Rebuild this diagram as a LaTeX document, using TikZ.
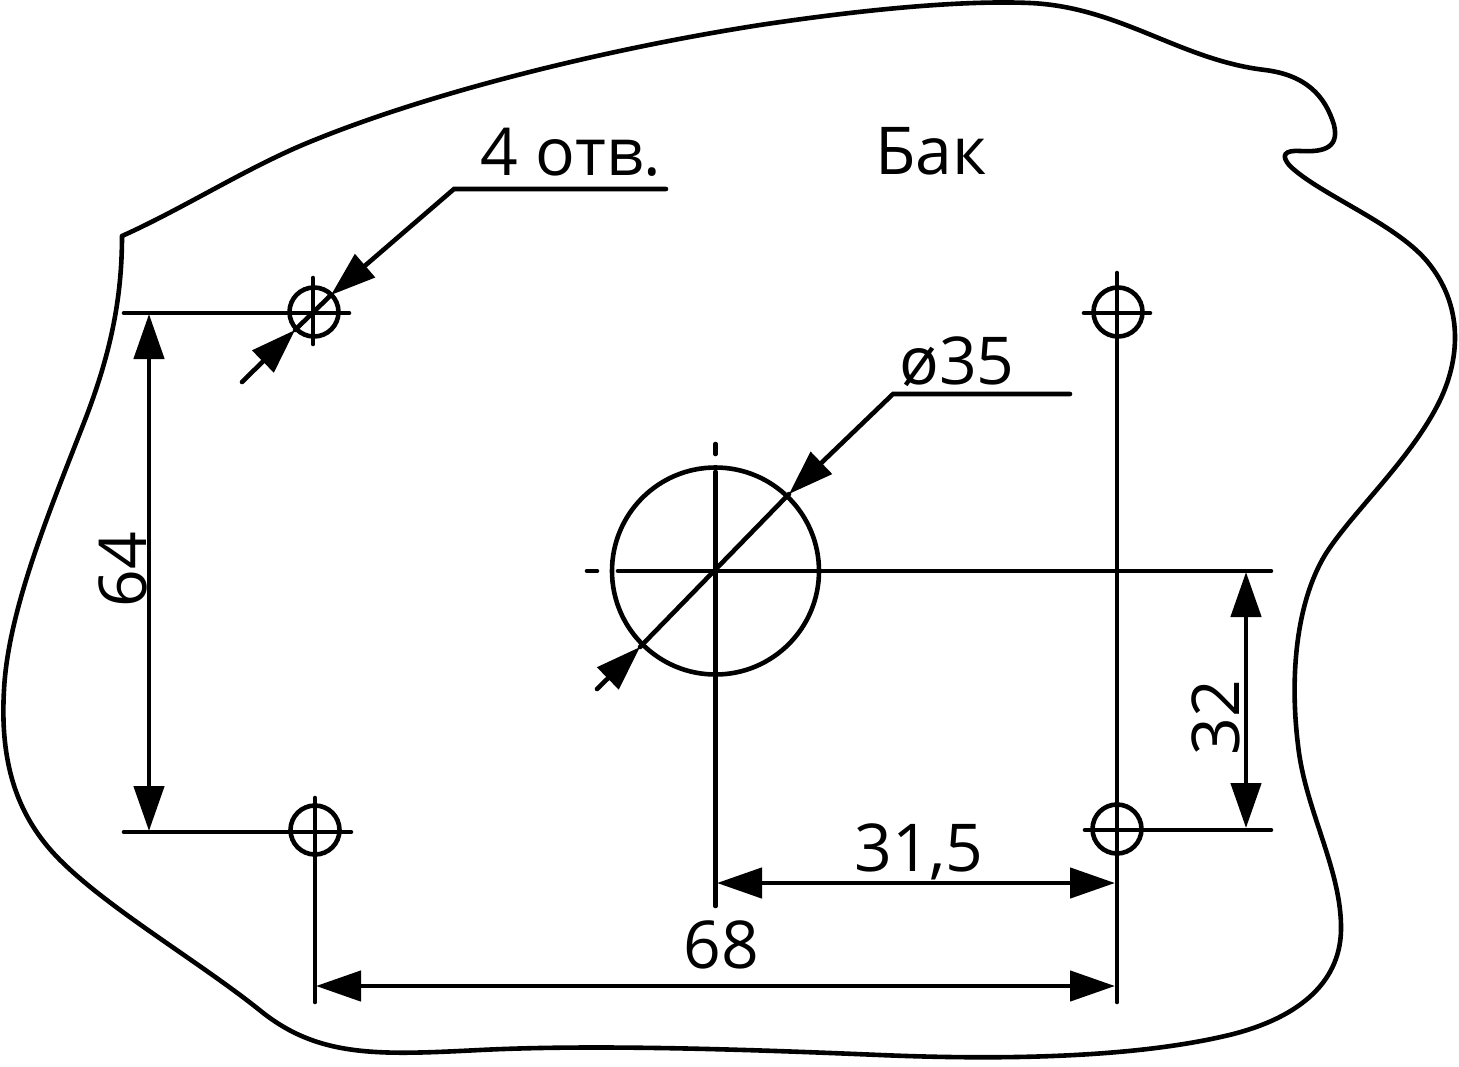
\documentclass[tikz,border=0pt]{standalone}
\usepackage{fontspec}
\setmainfont{Open Sans}
\usetikzlibrary{arrows.meta}
\tikzset{
  x=1pt,y=-1pt,
  ln/.style={line width=4.6pt,black,line cap=round},
  dim/.style={ln,{Triangle[length=45pt,width=30pt]}-{Triangle[length=45pt,width=30pt]}},
  tip/.style={ln,-{Triangle[length=45pt,width=30pt]}},
  lbl/.style={font=\fontsize{66}{66}\selectfont,inner sep=0pt,text=black}
}
\begin{document}
\begin{tikzpicture}
\useasboundingbox (0,0) rectangle (1459,1066);
% outline
\draw[ln,line join=round] (122,236)
 .. controls (180,210) and (240,172) .. (300,146)
 .. controls (420,95) and (600,50) .. (760,25)
 .. controls (860,10) and (960,0) .. (1030,3)
 .. controls (1120,7) and (1180,60) .. (1265,70)
 .. controls (1305,75) and (1325,95) .. (1334,125)
 .. controls (1340,150) and (1320,152) .. (1300,151)
 .. controls (1285,150) and (1280,155) .. (1290,166)
 .. controls (1320,195) and (1400,225) .. (1430,265)
 .. controls (1465,310) and (1460,365) .. (1435,410)
 .. controls (1405,465) and (1350,515) .. (1325,555)
 .. controls (1295,605) and (1290,680) .. (1298,745)
 .. controls (1305,810) and (1342,870) .. (1341,930)
 .. controls (1340,985) and (1295,1020) .. (1225,1036)
 .. controls (1130,1058) and (1000,1060) .. (880,1055)
 .. controls (760,1050) and (600,1044) .. (480,1050)
 .. controls (380,1055) and (320,1058) .. (262,1012)
 .. controls (200,962) and (110,910) .. (60,860)
 .. controls (15,815) and (0,760) .. (4,690)
 .. controls (8,610) and (50,510) .. (85,420)
 .. controls (110,355) and (122,300) .. (122,236);
% centre hole
\node[circle,draw,ln,minimum size=207pt,inner sep=0pt] (big) at (715.5,571) {};
% small holes
\foreach \n/\x/\y in {a/314/312,b/1118/312,c/315/830,d/1117/829}{
  \node[circle,draw,ln,minimum size=49pt,inner sep=0pt] (\n) at (\x,\y) {};
}
% centre lines
\coordinate (a1) at (124,313); \coordinate (a2) at (349,313);
\draw[ln] (a1) -- (a2);
\coordinate (a3) at (313,278); \coordinate (a4) at (313,344);
\draw[ln] (a3) -- (a4);
\coordinate (b1) at (1084,313); \coordinate (b2) at (1150,313);
\draw[ln] (b1) -- (b2);
\coordinate (b3) at (1117,273); \coordinate (b4) at (1117,1002);
\draw[ln] (b3) -- (b4);
\coordinate (c1) at (124,832); \coordinate (c2) at (351,832);
\draw[ln] (c1) -- (c2);
\coordinate (c3) at (315,798); \coordinate (c4) at (315,1002);
\draw[ln] (c3) -- (c4);
\coordinate (d1) at (1085,830); \coordinate (d2) at (1271,830);
\draw[ln] (d1) -- (d2);
\coordinate (e1) at (618,571); \coordinate (e2) at (1271,571);
\draw[ln] (e1) -- (e2);
\coordinate (e3) at (587,571); \coordinate (e4) at (597,571);
\draw[ln] (e3) -- (e4);
\coordinate (f1) at (715.5,472); \coordinate (f2) at (715.5,906);
\draw[ln] (f1) -- (f2);
\coordinate (f3) at (715.5,444); \coordinate (f4) at (715.5,454);
\draw[ln] (f3) -- (f4);
% dimensions
\coordinate (d64a) at (149,314); \coordinate (d64b) at (149,831);
\draw[dim] (d64a) -- (d64b);
\coordinate (d32a) at (1246,572); \coordinate (d32b) at (1246,828);
\draw[dim] (d32a) -- (d32b);
\coordinate (d31a) at (717,883); \coordinate (d31b) at (1115,883);
\draw[dim] (d31a) -- (d31b);
\coordinate (d68a) at (316,986); \coordinate (d68b) at (1115,986);
\draw[dim] (d68a) -- (d68b);
% leader 4 holes
\coordinate (l1) at (666,189); \coordinate (l2) at (454,189); \coordinate (l3) at (331,295);
\draw[tip,line join=miter] (l1) -- (l2) -- (l3);
\coordinate (l4) at (242,382); \coordinate (l5) at (295,330);
\draw[tip] (l4) -- (l5);
\coordinate (l7) at (331,295);
\draw[ln] (l5) -- (l7);
% leader phi 35
\coordinate (m1) at (1070,394); \coordinate (m2) at (893,394); \coordinate (m3) at (789,494);
\draw[tip,line join=miter] (m1) -- (m2) -- (m3);
\coordinate (m4) at (597,689); \coordinate (m5) at (640,647);
\draw[tip] (m4) -- (m5);
\draw[ln] (m5) -- (m3);
% labels
\node[lbl] (t4) at (571,152) {4 отв.};
\node[lbl] (tb) at (931,151) {Бак};
\node[lbl] (t35) at (957,362) {ø35};
\node[lbl,rotate=90] (t64) at (123,570) {64};
\node[lbl,rotate=90] (t32) at (1216,718) {32};
\node[lbl] (t31) at (919,852) {31,5};
\node[lbl] (t68) at (721,945) {68};
\end{tikzpicture}
\end{document}
